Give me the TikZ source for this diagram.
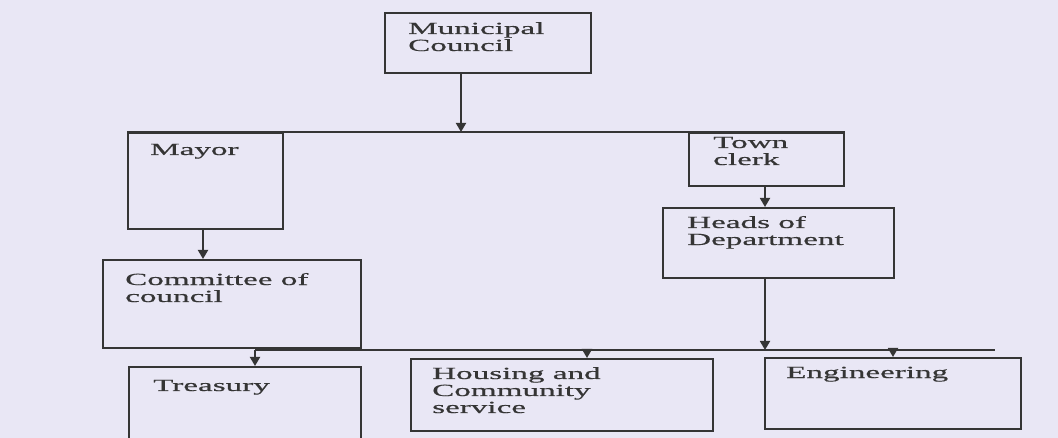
\documentclass[tikz,border=0pt]{standalone}
\usepackage{fontspec}
\setmainfont{Liberation Serif}
\newfontfamily\widefont[FakeStretch=1.95,FakeBold=0.6]{Liberation Serif}
\usetikzlibrary{arrows.meta}
\definecolor{paper}{HTML}{E9E7F5}
\definecolor{ink}{HTML}{353535}
\tikzset{
  box/.style={draw=ink, line width=2pt, anchor=north west, inner sep=0pt},
  txt/.style={anchor=base west, inner sep=0pt, text=ink, align=left,
              font=\widefont\fontsize{17}{17}\selectfont},
  conn/.style={draw=ink, line width=1.8pt},
  arr/.style={conn, -{Triangle[length=9pt,width=10pt]}}
}
\begin{document}
\begin{tikzpicture}[x=1pt,y=-1pt]
\fill[paper] (0,0) rectangle (1058,438);
\useasboundingbox (0,0) rectangle (1058,438);
% boxes
\node[box, minimum width=206pt, minimum height=60pt] (council) at (384,12) {};
\node[box, minimum width=155pt, minimum height=96pt] (mayor) at (127,132) {};
\node[box, minimum width=155pt, minimum height=53pt] (clerk) at (688,132) {};
\node[box, minimum width=231pt, minimum height=70pt] (heads) at (662,207) {};
\node[box, minimum width=258pt, minimum height=88pt] (committee) at (102,259) {};
\node[box, minimum width=232pt, minimum height=72pt] (treasury) at (128,366) {};
\node[box, minimum width=302pt, minimum height=72pt] (housing) at (410,358) {};
\node[box, minimum width=256pt, minimum height=71pt] (engineering) at (764,357) {};
% texts (base anchor = baseline of last line)
\node[txt] (tcouncil) at (408,51) {Municipal\\Council};
\node[txt] (tmayor) at (150,155) {Mayor};
\node[txt] (tclerk) at (713,165) {Town\\clerk};
\node[txt] (theads) at (687,245) {Heads of\\Department};
\node[txt] (tcommittee) at (125,302) {Committee of\\council};
\node[txt] (ttreasury) at (153,391) {Treasury};
\node[txt] (thousing) at (432,413) {Housing and\\Community\\service};
\node[txt] (tengineering) at (786,378) {Engineering};
% connector points
\coordinate (j1) at (461,132);
\coordinate (j2) at (765,350);
\coordinate (lstart) at (255,350);
\coordinate (lend) at (995,350);
\coordinate (xm) at (203,0);
\coordinate (xh) at (587,0);
\coordinate (xe) at (893,0);
% connectors
\draw[conn] (mayor.north west) -- (clerk.north east);
\draw[arr] (council.south -| j1) -- (j1);
\draw[arr] (mayor.south -| xm) -- (committee.north -| xm);
\draw[arr] (clerk.south -| j2) -- (heads.north -| j2);
\draw[arr] (heads.south -| j2) -- (j2);
\draw[conn] (lstart) -- (lend);
\draw[arr] (lstart) -- (treasury.north -| lstart);
\draw[arr] (lstart -| xh) -- (housing.north -| xh);
\draw[arr] (lstart -| xe) -- (engineering.north -| xe);
\end{tikzpicture}
\end{document}
